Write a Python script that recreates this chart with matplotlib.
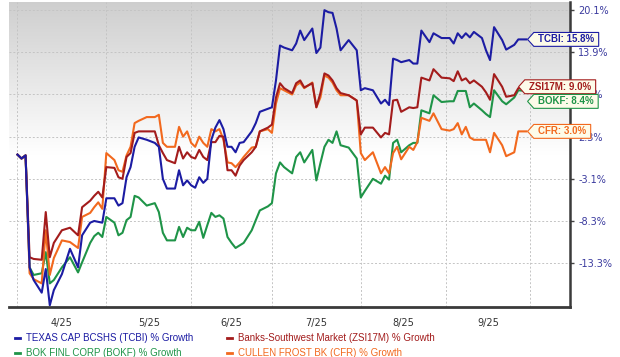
import numpy as np
import pandas as pd
import matplotlib
matplotlib.use("Agg")
import matplotlib.pyplot as plt
from matplotlib.lines import Line2D
from matplotlib.path import Path

# sample dates (trading days) and % growth
dates = [
    "2025-03-31", "2025-04-01", "2025-04-02", "2025-04-03", "2025-04-04", "2025-04-08",
    "2025-04-09", "2025-04-10", "2025-04-11", "2025-04-15", "2025-04-17", "2025-04-22",
    "2025-04-23", "2025-04-25", "2025-04-28", "2025-04-29", "2025-04-30",
    "2025-05-01", "2025-05-05", "2025-05-06", "2025-05-07", "2025-05-08", "2025-05-09",
    "2025-05-12", "2025-05-13", "2025-05-15", "2025-05-19", "2025-05-20", "2025-05-21",
    "2025-05-22", "2025-05-27", "2025-05-28", "2025-05-29", "2025-05-30",
    "2025-06-02", "2025-06-03", "2025-06-04", "2025-06-05", "2025-06-06", "2025-06-09",
    "2025-06-10", "2025-06-11", "2025-06-12", "2025-06-13", "2025-06-16", "2025-06-17",
    "2025-06-18", "2025-06-20", "2025-06-24", "2025-06-25", "2025-06-26", "2025-06-30",
    "2025-07-01", "2025-07-02", "2025-07-03", "2025-07-07", "2025-07-09", "2025-07-10",
    "2025-07-11", "2025-07-14", "2025-07-16", "2025-07-17", "2025-07-18", "2025-07-21",
    "2025-07-22", "2025-07-23", "2025-07-24", "2025-07-25", "2025-07-29", "2025-07-31",
    "2025-08-01", "2025-08-04", "2025-08-06", "2025-08-08", "2025-08-11", "2025-08-12",
    "2025-08-13", "2025-08-14", "2025-08-15", "2025-08-19", "2025-08-20", "2025-08-21",
    "2025-08-22", "2025-08-26", "2025-08-27", "2025-08-29",
    "2025-09-03", "2025-09-04", "2025-09-05", "2025-09-08", "2025-09-09", "2025-09-10",
    "2025-09-11", "2025-09-15", "2025-09-16", "2025-09-17", "2025-09-18", "2025-09-22",
    "2025-09-23", "2025-09-25", "2025-09-26", "2025-09-30",
]

tcbi = [
    0.0, -0.5, -0.1, -13.8, -15.3, -16.8, -14.0, -18.3, -16.5, -14.6, -11.6, -13.8,
    -10.0, -8.5, -8.3, -8.4, -8.5,
    -5.5, -5.5, -6.4, -6.1, -2.9, -1.6, 1.0, 2.2, 1.9, 1.5, 1.0, -3.1,
    -4.3, -4.3, -2.0, -3.9, -3.3,
    -3.9, -4.2, -2.9, -3.6, -3.1, 1.9, 3.5, 4.5, 3.3, 1.0, 1.0, 0.3,
    1.5, 1.6, 3.0, 4.1, 5.6, 6.0,
    6.2, 9.9, 14.9, 14.6, 14.2, 15.2, 17.1, 15.7, 17.4, 13.8, 14.6, 20.1,
    19.8, 19.7, 17.4, 14.2, 15.7, 14.2,
    8.5, 8.8, 8.5, 6.7, 7.2, 6.5, 13.0, 12.8, 12.5, 12.8, 12.3, 12.3,
    17.1, 15.4, 16.7, 16.0,
    16.0, 15.2, 16.7, 16.0, 16.7, 16.1, 16.9, 16.0, 14.2, 12.8, 17.6, 15.7,
    14.3, 15.0, 15.8, 15.8,
]

zsi17m = [
    0.0, -0.5, -0.1, -12.6, -12.8, -12.9, -7.2, -12.6, -10.9, -9.4, -9.1, -10.0,
    -6.6, -5.8, -5.2, -4.7, -5.4,
    -1.6, -1.7, -2.9, -3.1, -0.3, 0.2, 2.8, 3.0, 3.0, 3.0, 1.2, 0.2,
    -0.7, -1.1, 1.0, -0.5, 0.3,
    -0.3, -0.5, 0.6, -0.3, -0.7, 1.6, 1.6, 2.4, 2.3, -2.0, -2.0, -2.7,
    -1.4, -0.7, 0.3, 1.0, 3.0, 3.5,
    3.9, 7.5, 9.5, 8.8, 8.1, 9.5, 9.9, 8.9, 9.5, 6.2, 8.1, 10.9,
    10.6, 9.9, 8.8, 8.1, 7.8, 7.1,
    2.6, 3.5, 3.5, 2.2, 2.8, 2.6, 7.1, 7.2, 5.6, 6.2, 6.1, 6.2,
    10.3, 9.9, 11.5, 10.3,
    10.2, 9.8, 11.2, 9.9, 10.2, 9.5, 9.9, 9.0, 8.2, 7.2, 10.8, 9.0,
    7.6, 7.8, 8.8, 9.0,
]

bokf = [
    0.0, -0.5, -0.1, -13.8, -14.7, -14.5, -12.0, -15.7, -15.3, -13.8, -12.6, -14.4,
    -13.2, -10.9, -10.1, -9.7, -10.2,
    -7.8, -8.5, -10.0, -9.7, -8.2, -7.8, -5.2, -5.4, -6.4, -6.1, -7.2, -9.7,
    -10.6, -10.6, -9.0, -10.2, -9.1,
    -9.4, -9.4, -8.4, -10.3, -8.8, -7.3, -7.8, -7.6, -8.0, -10.2, -10.9, -11.5,
    -11.2, -10.9, -9.4, -8.2, -7.0, -6.5,
    -6.1, -2.4, -1.0, -1.6, -2.4, -0.3, 0.3, -1.0, 0.6, -3.3, -1.1, 1.0,
    1.9, 1.5, 3.0, 1.2, 0.9, -0.5,
    -5.4, -4.6, -3.1, -3.7, -2.7, -3.2, 1.5, 1.9, 0.3, 1.2, 1.5, 1.5,
    5.8, 5.4, 7.8, 6.9,
    7.0, 7.0, 8.4, 8.4, 8.4, 6.2, 6.7, 5.8, 5.3, 4.9, 8.5, 7.0,
    6.6, 7.5, 8.5, 8.4,
]

cfr = [
    0.0, -0.5, -0.1, -14.5, -15.2, -15.7, -9.4, -14.7, -12.7, -10.6, -10.8, -11.5,
    -7.8, -7.3, -6.6, -6.0, -6.8,
    0.2, -0.7, -2.0, -2.2, -0.1, 1.0, 4.1, 4.4, 4.9, 4.9, 5.2, 1.5,
    1.0, 1.0, 3.6, 2.3, 3.0,
    1.5, 1.0, 2.3, 1.5, 1.0, 3.3, 3.0, 3.3, 1.9, -1.0, -1.1, -1.6,
    -1.0, -0.3, 0.9, 1.0, 3.0, 3.3,
    2.8, 6.7, 8.8, 8.5, 7.9, 9.2, 9.6, 8.8, 9.6, 6.2, 7.5, 10.6,
    10.3, 9.6, 8.5, 7.8, 7.8, 7.1,
    0.2, -0.7, 0.3, -2.4, -1.6, -2.4, 0.2, 1.0, -0.6, 1.0, 0.6, 1.6,
    4.8, 4.4, 5.4, 3.3,
    3.1, 3.3, 4.1, 2.6, 3.6, 2.2, 1.9, 1.9, 1.9, 0.3, 2.8, 1.2,
    -0.2, 0.3, 3.0, 3.0,
]

names = [
    "TEXAS CAP BCSHS (TCBI) % Growth",
    "Banks-Southwest Market (ZSI17M) % Growth",
    "BOK FINL CORP (BOKF) % Growth",
    "CULLEN FROST BK (CFR) % Growth",
]
tags = ["TCBI", "ZSI17M", "BOKF", "CFR"]
colors = ["#1c1ca3", "#a31c1c", "#1f9448", "#f2691e"]

y_ticks = [20.1, 13.9, 7.9, 2.3, -3.1, -8.3, -13.3]
month_labels = ["4/25", "5/25", "6/25", "7/25", "8/25", "9/25"]

# x axis is trading-day index, like the original chart
holidays = ["2025-04-18", "2025-05-26", "2025-06-19", "2025-07-04", "2025-09-01"]
days = pd.bdate_range("2025-03-31", "2025-10-01", freq="C", holidays=holidays)
x = days.get_indexer(pd.to_datetime(dates))

# y ticks are evenly spaced on the chart, so use a piecewise scale through them
tv = sorted(y_ticks)
scale_vals = [tv[0] - 10.0] + tv + [tv[-1] + 12.4]
scale_pos = [-2.0] + list(range(len(tv))) + [len(tv) + 1.0]


def fwd(v):
    return np.interp(v, scale_vals, scale_pos)


def inv(p):
    return np.interp(p, scale_pos, scale_vals)


def tag_box(x0, y0, width, height, mutation_size):
    # label box with a pointed left side
    hpad = 0.45 * mutation_size
    vpad = 0.2 * mutation_size
    left, right = x0 - hpad, x0 + width + hpad
    bottom, top = y0 - vpad, y0 + height + vpad
    mid = (bottom + top) / 2
    tip = 0.45 * (top - bottom)
    verts = [(left - tip, mid), (left, bottom), (right, bottom), (right, top),
             (left, top), (left - tip, mid)]
    return Path(verts, closed=True)


fig = plt.figure(figsize=(6.2, 3.57), dpi=100)
ax = fig.add_axes([9 / 620, 50 / 357, 561 / 620, 305 / 357])
ax.set_yscale("function", functions=(fwd, inv))

# grey-to-white background
t = np.linspace(0, 1, 200)
shade = np.clip(0.81 + 0.19 * t / 0.5, 0, 1)
bg = np.repeat(shade[:, None, None], 3, axis=2)
ax.imshow(bg, extent=[0, 1, 0, 1], transform=ax.transAxes, aspect="auto", zorder=0)

series = [tcbi, zsi17m, bokf, cfr]
draw_order = [2, 3, 1, 0]
for i in draw_order:
    ax.plot(x, series[i], color=colors[i], lw=1.5, zorder=2 + draw_order.index(i) * 0.1)

# month gridlines at the first trading day of each month, first one at chart start
firsts = [i for i in range(1, len(days)) if days[i].month != days[i - 1].month]
grid_x = [0] + firsts[1:]
mids = [(a + b) / 2 for a, b in zip(grid_x[:-1], grid_x[1:])]

ax.set_xlim(-2.1, 136.8)
ax.set_ylim(-18.5, 21.3)

ax.set_xticks(grid_x)
ax.set_xticklabels([])
ax.set_xticks(mids, minor=True)
ax.set_xticklabels(month_labels, minor=True)
ax.tick_params(axis="x", which="both", length=0)
ax.tick_params(axis="x", which="minor", pad=8, labelsize=7, labelcolor="#333333")

ax.yaxis.tick_right()
ax.set_yticks(y_ticks)
ax.set_yticklabels([f"{v}%" for v in y_ticks])
ax.yaxis.set_minor_locator(plt.NullLocator())
ax.tick_params(axis="y", length=3, width=1, color="#444444", pad=3,
               labelsize=7, labelcolor="#3a3a9e")

ax.set_axisbelow(True)
ax.grid(True, which="major", color="#c4c4c4", linestyle=(0, (2, 2)), linewidth=0.7)

for side in ["left", "top"]:
    ax.spines[side].set_visible(False)
ax.spines["right"].set_color("#3a3a3a")
ax.spines["right"].set_linewidth(1.8)
ax.spines["bottom"].set_color("#3a3a3a")
ax.spines["bottom"].set_linewidth(2)

# end-of-line value tags
tag_shift = {"ZSI17M": (2, 0), "BOKF": (8.5, -7.5)}
for i, tag in enumerate(tags):
    last = series[i][-1]
    dx, dy = tag_shift.get(tag, (8.5, 0))
    ax.annotate(f"{tag}: {last:.1f}%", xy=(x[-1], last), xytext=(dx, dy),
                textcoords="offset points", ha="left", va="center",
                fontsize=7, fontweight="bold", family="Liberation Sans",
                color=colors[i], annotation_clip=False, zorder=5,
                bbox=dict(boxstyle=tag_box, fc="#fdfbe9", ec=colors[i], lw=0.8))

handles = [Line2D([], [], color=c, lw=2) for c in colors]
order = [0, 2, 1, 3]
leg = fig.legend([handles[i] for i in order], [names[i] for i in order],
                 loc="upper left", bbox_to_anchor=(15 / 620, 24 / 357), ncol=2,
                 frameon=False, borderpad=0, borderaxespad=0,
                 handlelength=0.5, handletextpad=0.6, columnspacing=3.5,
                 labelspacing=0.55, prop={"family": "Liberation Sans", "size": 7})
for txt, i in zip(leg.get_texts(), order):
    txt.set_color(colors[i])

fig.savefig("out.png", dpi=100)
